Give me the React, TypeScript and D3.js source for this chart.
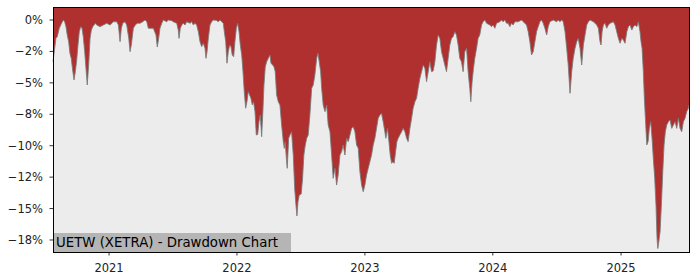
import React from "react";
import * as d3 from "d3";

// Decimal-year dates and drawdown (%)
const dateYears: number[] = [
  2020.563, 2020.576, 2020.586, 2020.596, 2020.612, 2020.630, 2020.643, 2020.654, 2020.664, 2020.674,
  2020.685, 2020.695, 2020.705, 2020.716, 2020.727, 2020.737, 2020.748, 2020.758, 2020.768, 2020.779,
  2020.789, 2020.799, 2020.810, 2020.820, 2020.830, 2020.841, 2020.852, 2020.862, 2020.873, 2020.883,
  2020.893, 2020.904, 2020.930, 2020.955, 2020.982, 2021.008, 2021.034, 2021.060, 2021.073, 2021.086,
  2021.096, 2021.107, 2021.125, 2021.138, 2021.154, 2021.164, 2021.174, 2021.190, 2021.205, 2021.221,
  2021.242, 2021.263, 2021.281, 2021.295, 2021.307, 2021.320, 2021.346, 2021.367, 2021.377, 2021.388,
  2021.398, 2021.412, 2021.424, 2021.451, 2021.463, 2021.490, 2021.502, 2021.529, 2021.541, 2021.547,
  2021.557, 2021.568, 2021.580, 2021.594, 2021.607, 2021.633, 2021.646, 2021.659, 2021.672, 2021.685,
  2021.698, 2021.711, 2021.724, 2021.737, 2021.750, 2021.758, 2021.766, 2021.776, 2021.789, 2021.802,
  2021.815, 2021.841, 2021.854, 2021.867, 2021.893, 2021.901, 2021.912, 2021.922, 2021.932, 2021.943,
  2021.953, 2021.963, 2021.974, 2021.984, 2021.995, 2022.005, 2022.016, 2022.026, 2022.037, 2022.047,
  2022.057, 2022.068, 2022.078, 2022.088, 2022.099, 2022.109, 2022.120, 2022.130, 2022.141, 2022.151,
  2022.162, 2022.172, 2022.182, 2022.193, 2022.203, 2022.211, 2022.221, 2022.232, 2022.245, 2022.258,
  2022.266, 2022.279, 2022.289, 2022.299, 2022.310, 2022.323, 2022.336, 2022.349, 2022.362, 2022.370,
  2022.377, 2022.388, 2022.393, 2022.404, 2022.414, 2022.427, 2022.440, 2022.451, 2022.461, 2022.469,
  2022.477, 2022.487, 2022.502, 2022.513, 2022.523, 2022.534, 2022.545, 2022.557, 2022.570, 2022.584,
  2022.596, 2022.609, 2022.623, 2022.633, 2022.643, 2022.654, 2022.662, 2022.674, 2022.688, 2022.701,
  2022.713, 2022.727, 2022.740, 2022.752, 2022.766, 2022.779, 2022.791, 2022.805, 2022.818, 2022.830,
  2022.844, 2022.857, 2022.870, 2022.883, 2022.896, 2022.909, 2022.922, 2022.935, 2022.948, 2022.961,
  2022.974, 2022.987, 2023.000, 2023.013, 2023.026, 2023.039, 2023.052, 2023.065, 2023.078, 2023.091,
  2023.104, 2023.117, 2023.130, 2023.143, 2023.156, 2023.164, 2023.177, 2023.188, 2023.198, 2023.209,
  2023.219, 2023.229, 2023.240, 2023.250, 2023.260, 2023.273, 2023.287, 2023.299, 2023.313, 2023.326,
  2023.338, 2023.352, 2023.365, 2023.377, 2023.391, 2023.404, 2023.416, 2023.430, 2023.443, 2023.456,
  2023.469, 2023.482, 2023.495, 2023.508, 2023.521, 2023.534, 2023.547, 2023.560, 2023.573, 2023.586,
  2023.599, 2023.612, 2023.625, 2023.638, 2023.651, 2023.664, 2023.677, 2023.690, 2023.703, 2023.716,
  2023.729, 2023.742, 2023.755, 2023.768, 2023.781, 2023.795, 2023.807, 2023.820, 2023.828, 2023.838,
  2023.849, 2023.859, 2023.873, 2023.885, 2023.898, 2023.912, 2023.924, 2023.938, 2023.951, 2023.977,
  2023.990, 2024.002, 2024.016, 2024.029, 2024.055, 2024.068, 2024.080, 2024.094, 2024.107, 2024.120,
  2024.133, 2024.146, 2024.159, 2024.172, 2024.198, 2024.224, 2024.237, 2024.250, 2024.263, 2024.276,
  2024.289, 2024.302, 2024.315, 2024.328, 2024.341, 2024.354, 2024.367, 2024.380, 2024.393, 2024.406,
  2024.420, 2024.432, 2024.445, 2024.471, 2024.498, 2024.510, 2024.523, 2024.537, 2024.549, 2024.563,
  2024.576, 2024.588, 2024.602, 2024.615, 2024.627, 2024.641, 2024.654, 2024.666, 2024.680, 2024.693,
  2024.706, 2024.719, 2024.732, 2024.745, 2024.758, 2024.784, 2024.797, 2024.810, 2024.823, 2024.836,
  2024.844, 2024.852, 2024.862, 2024.875, 2024.888, 2024.901, 2024.914, 2024.940, 2024.953, 2024.966,
  2024.979, 2024.992, 2025.006, 2025.018, 2025.031, 2025.045, 2025.057, 2025.070, 2025.084, 2025.096,
  2025.109, 2025.123, 2025.135, 2025.148, 2025.156, 2025.164, 2025.174, 2025.182, 2025.190, 2025.201,
  2025.211, 2025.221, 2025.232, 2025.242, 2025.252, 2025.263, 2025.273, 2025.281, 2025.287, 2025.295,
  2025.305, 2025.315, 2025.326, 2025.336, 2025.346, 2025.357, 2025.370, 2025.383, 2025.396, 2025.409,
  2025.422, 2025.435, 2025.448, 2025.461, 2025.474, 2025.487, 2025.500, 2025.513, 2025.526, 2025.531,
];

const drawdown: number[] = [
  -3.32, -2.25, -1.46, -1.33, -0.66, -0.26, 0, -0.14, -0.53, -1.19,
  -1.73, -2.65, -3.05, -3.98, -4.77, -4.11, -3.18, -1.99, -0.93, -0.53,
  -0.66, -1.33, -2.52, -3.84, -5.17, -3.58, -1.46, -0.8, -0.53, -0.4,
  -0.26, -0.4, -0.53, -0.4, -0.26, -0.4, -0.14, -0.14, -0.4, -1.73,
  -0.66, -0.26, -0.14, -0.4, -1.46, -2.52, -1.99, -0.66, -0.4, -0.26,
  -0.26, -0.14, 0, -0.14, -0.66, -0.66, -0.66, -1.19, -2.15, -1.46,
  -0.66, -0.26, 0, -0.14, 0, -0.05, -0.14, -0.26, -0.8, -1.46,
  -0.66, -0.4, -0.26, -0.4, -0.14, -0.26, -0.14, -0.4, -0.26, -0.4,
  -0.93, -1.73, -2.12, -1.85, -2.25, -3.05, -2.52, -1.46, -0.4, -0.14,
  0, -0.03, -0.14, 0, -0.26, -0.93, -1.73, -3.44, -2.52, -1.99,
  -2.12, -2.78, -2.92, -1.73, -0.66, -0.26, -0.93, -1.99, -2.78, -4.11,
  -5.7, -7.02, -6.5, -5.7, -5.97, -6.23, -6.76, -6.5, -7.29, -9.15,
  -9.1, -8.09, -7.56, -9.28, -7.16, -5.17, -3.74, -3.32, -3.05, -2.78,
  -3.44, -3.58, -3.72, -4.11, -5.97, -6.5, -6.76, -8.35, -9.68, -10.21,
  -9.68, -11.27, -11.8, -9.41, -9.15, -8.89, -10.74, -13.39, -14.72, -15.59,
  -14.45, -13.92, -13.85, -12.59, -10.74, -9.94, -9.41, -9.15, -7.56, -5.43,
  -5.17, -4.38, -3.05, -2.65, -3.32, -4.11, -5.43, -6.76, -7.29, -6.76,
  -8.35, -8.89, -10.74, -12.59, -11.8, -13.13, -12.33, -10.74, -10.48, -9.94,
  -10.74, -9.41, -9.68, -9.15, -8.62, -8.49, -8.89, -9.94, -10.21, -12.07,
  -13.13, -13.66, -13.13, -12.33, -11.8, -11.27, -10.74, -9.94, -9.41, -8.62,
  -7.82, -7.56, -7.42, -8.09, -8.89, -9.41, -8.62, -9.68, -10.74, -11.4,
  -11.27, -11.4, -10.48, -9.68, -9.41, -9.15, -8.89, -8.62, -8.89, -9.41,
  -9.68, -8.62, -7.82, -7.02, -6.5, -6.23, -5.43, -4.64, -4.11, -3.58,
  -3.84, -4.91, -4.11, -3.32, -4.11, -4.05, -3.32, -1.99, -1.19, -1.46,
  -2.52, -3.05, -3.58, -4.11, -3.05, -1.99, -1.46, -1.33, -0.93, -1.19,
  -1.99, -3.05, -3.32, -4.11, -2.52, -2.25, -4.11, -5.43, -6.5, -4.91,
  -3.84, -3.05, -2.25, -1.46, -1.19, -0.4, -0.14, 0, -0.26, -0.4,
  -0.53, -0.4, -0.66, -0.26, -0.14, 0, -0.14, 0, -0.26, -0.26,
  -0.53, -0.26, -0.4, -0.14, -0.14, 0, -0.14, -0.26, -0.4, -0.93,
  -1.73, -2.78, -2.52, -1.73, -0.93, -0.53, -0.14, 0, -0.26, -0.66,
  -1.19, -0.53, -0.14, 0, -0.14, 0, -0.14, 0, -0.14, -0.93,
  -2.25, -3.58, -5.83, -4.11, -3.05, -2.25, -1.73, -1.46, -2.25, -3.58,
  -1.99, -1.19, -0.4, -0.14, 0, -0.14, -0.26, -0.4, -0.66, -1.73,
  -1.99, -0.93, -0.4, -0.26, -0.66, -0.4, -0.26, -0.14, -0.4, -0.93,
  -1.46, -1.85, -1.46, -1.59, -1.85, -0.93, -0.53, -0.4, -0.8, -0.53,
  -0.4, -0.53, -0.14, -0.93, -1.73, -2.25, -4.11, -6.23, -7.82, -9.94,
  -9.68, -8.62, -8.09, -9.41, -11.0, -12.59, -14.72, -17.37, -18.18, -17.64,
  -16.84, -14.72, -12.07, -9.94, -8.89, -8.35, -8.09, -7.96, -8.62, -8.35,
  -8.09, -8.62, -7.82, -8.62, -8.89, -8.09, -7.82, -7.29, -7.02, -6.76,
];

const yTicks: number[] = [0, -2.5, -5, -7.5, -10, -12.5, -15, -17.5];
const yTickLabels: string[] = ["0%", "−2%", "−5%", "−8%", "−10%", "−12%", "−15%", "−18%"];
const xTickYears: number[] = [2021, 2022, 2023, 2024, 2025];
const title = "UETW (XETRA) - Drawdown Chart";

function yearToDate(y: number): Date {
  const yr = Math.floor(y);
  const s = Date.UTC(yr, 0, 1);
  const e = Date.UTC(yr + 1, 0, 1);
  return new Date(s + (y - yr) * (e - s));
}

const W = 700;
const H = 280;
const left = 53;
const right = 689;
const top = 7;
const bottom = 252;

export default function App() {
  const data = dateYears.map((y, i) => ({ d: yearToDate(y), v: drawdown[i] }));
  const x = d3
    .scaleUtc()
    .domain([yearToDate(dateYears[0]), yearToDate(dateYears[dateYears.length - 1])])
    .range([left, right]);
  const y = d3.scaleLinear().domain([-18.455, 1.034]).range([bottom, top]);

  const area = d3
    .area<{ d: Date; v: number }>()
    .x((p) => x(p.d))
    .y0(top)
    .y1((p) => y(p.v));
  const line = d3
    .line<{ d: Date; v: number }>()
    .x((p) => x(p.d))
    .y((p) => y(p.v));

  const font = "'DejaVu Sans', sans-serif";

  return (
    <svg
      width={W}
      height={H}
      style={{ position: "absolute", left: 0, top: 0, background: "#ffffff" }}
    >
      <rect x={left} y={top} width={right - left} height={bottom - top} fill="#ececec" />
      <path d={area(data) || ""} fill="#b03030" />
      <path d={line(data) || ""} fill="none" stroke="#7a7a7a" strokeWidth={1} strokeOpacity={0.85} />
      <rect x={left} y={233} width={291 - left} height={bottom - 233} fill="#b5b5b5" />
      <text x={56} y={247} fontFamily={font} fontSize={13.3} fill="#000">
        {title}
      </text>
      <rect
        x={left}
        y={top}
        width={right - left}
        height={bottom - top}
        fill="none"
        stroke="#000"
        strokeWidth={1}
        shapeRendering="crispEdges"
      />
      {yTicks.map((t, i) => (
        <g key={"y" + i}>
          <line x1={left - 3.5} x2={left} y1={y(t)} y2={y(t)} stroke="#000" strokeWidth={0.8} />
          <text
            x={left - 10}
            y={y(t)}
            dy="0.35em"
            textAnchor="end"
            fontFamily={font}
            fontSize={11.5}
            fill="#222"
          >
            {yTickLabels[i]}
          </text>
        </g>
      ))}
      {xTickYears.map((yr) => {
        const px = x(yearToDate(yr));
        return (
          <g key={"x" + yr}>
            <line x1={px} x2={px} y1={bottom} y2={bottom + 3.5} stroke="#000" strokeWidth={0.8} />
            <text x={px} y={272} textAnchor="middle" fontFamily={font} fontSize={11.5} fill="#222">
              {yr}
            </text>
          </g>
        );
      })}
    </svg>
  );
}
